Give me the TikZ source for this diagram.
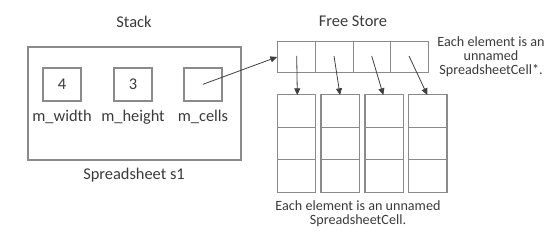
\documentclass[tikz,border=0pt]{standalone}
\usepackage{fontspec}
\setmainfont{Carlito}
\usetikzlibrary{arrows.meta}
\definecolor{boxgray}{HTML}{8A8A8A}
\definecolor{txtgray}{HTML}{3A3A3A}
\definecolor{arrgray}{HTML}{404040}
\tikzset{
  cellbox/.style={draw=boxgray,line width=0.9pt,minimum width=28.5pt,minimum height=24.75pt,inner sep=0pt,text=txtgray,font=\fontsize{12.3}{14}\selectfont},
  lbl/.style={text=txtgray,font=\fontsize{12.3}{14}\selectfont,inner sep=0pt},
  note/.style={text=txtgray,font=\fontsize{10.6}{10.5}\selectfont,align=center,inner sep=0pt},
  ptr/.style={draw=arrgray,line width=0.6pt,-{Triangle[length=5pt,width=4.5pt]}},
}
\begin{document}
\begin{tikzpicture}[x=0.75pt,y=-0.75pt]
\useasboundingbox (0,0) rectangle (556,241);
% Stack
\node[lbl] (stack) at (134,22) {Stack};
\draw[boxgray,line width=0.9pt] (28,47) rectangle (241,160);
\node[cellbox] (w) at (62,84.5) {4};
\node[cellbox] (h) at (133,84.5) {3};
\node[cellbox] (c) at (203,84.5) {};
\node[lbl] (wl) at (62,117) {m\_width};
\node[lbl] (hl) at (133,117) {m\_height};
\node[lbl] (cl) at (203,117) {m\_cells};
\node[lbl] (s1) at (134,175) {Spreadsheet s1};
% Free store
\node[lbl] (fs) at (353,21) {Free Store};
\foreach \i in {0,1,2,3}{
  \node[draw=boxgray,line width=0.9pt,minimum width=28.3pt,minimum height=23.75pt,inner sep=0pt] (p\i) at ({296.5+37.75*\i},57) {};
}
\foreach \i/\x in {0/296.5,1/340.2,2/384.2,3/427.9}{
  \foreach \j in {0,1,2}{
    \node[draw=boxgray,line width=0.9pt,minimum width=28.7pt,minimum height=24.4pt,inner sep=0pt] (q\i\j) at (\x,{111+32.5*\j}) {};
  }
}
\coordinate (cs) at (203,84.3);
\draw[ptr] (cs) -- (p0.west);
\coordinate (s0) at (296.7,56);
\coordinate (s1c) at (334,56);
\coordinate (s2) at (371.7,56);
\coordinate (s3) at (409,56);
\coordinate (t0) at (297.3,95);
\coordinate (t1) at (340,95);
\coordinate (t2) at (383.3,95);
\coordinate (t3) at (427.3,95);
\draw[ptr] (s0) -- (t0);
\draw[ptr] (s1c) -- (t1);
\draw[ptr] (s2) -- (t2);
\draw[ptr] (s3) -- (t3);
\node[note] (n1) at (491,57) {Each element is an\\unnamed\\SpreadsheetCell*.};
\node[note] (n2) at (358,214) {Each element is an unnamed\\SpreadsheetCell.};
\end{tikzpicture}
\end{document}
